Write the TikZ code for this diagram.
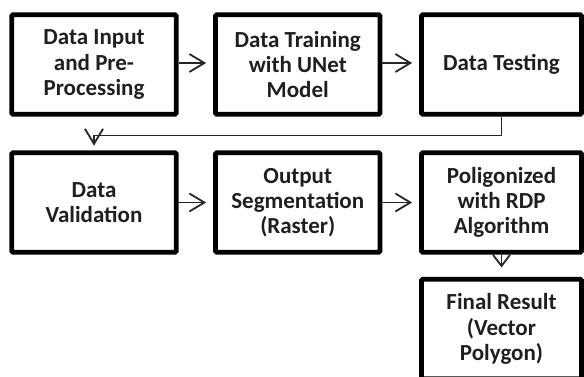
\documentclass[tikz,border=0pt]{standalone}
\usepackage{fontspec}
\setmainfont{Carlito}
\usetikzlibrary{arrows.meta}
\begin{document}
\begin{tikzpicture}[x=1pt,y=-1pt,
  box/.style={draw=black,line width=4.7pt,rounded corners=1.2pt,minimum width=164.5pt,minimum height=99.5pt,inner sep=0pt,
    align=center,font=\fontsize{23}{25.3}\selectfont\bfseries,text=black!88},
  nbox/.style={box,minimum width=160pt},
  arr/.style={draw=black!85,line width=1.8pt,-{Straight Barb[length=15pt,width=18pt,line width=1.8pt]}}]
\useasboundingbox (0,0) rectangle (584,377);
\clip (0,0) rectangle (584,377);
\node[box] (b1) at (94,64.5) {Data Input\\and Pre-\\Processing};
\node[box] (b2) at (297.75,64.5) {Data Training\\with UNet\\Model};
\node[nbox] (b3) at (501.5,64.5) {Data Testing};
\node[box] (b4) at (94,202.5) {Data\\Validation};
\node[box] (b5) at (297.75,202.5) {Output\\Segmentation\\(Raster)};
\node[nbox] (b6) at (501.5,202.5) {Poligonized\\with RDP\\Algorithm};
\node[nbox] (b7) at (501.5,329) {Final Result\\(Vector\\Polygon)};
\draw[arr,shorten >=7pt] ([yshift=1.5pt]b1.east) -- ([yshift=1.5pt]b2.west);
\draw[arr,shorten >=7pt] ([yshift=1.5pt]b2.east) -- ([yshift=1.5pt]b3.west);
\draw[arr,shorten >=7pt] (b4.east) -- (b5.west);
\draw[arr,shorten >=7pt] (b5.east) -- (b6.west);
\draw[arr] (b3.south) |- ([yshift=-19pt]b1.south) -- ([yshift=-29pt]b1.south);
\draw[draw=black!85,line width=1.8pt,-{Straight Barb[length=11pt,width=17pt,line width=1.8pt]},shorten >=9.5pt] (b6.south) -- (b7.north);
\end{tikzpicture}
\end{document}
